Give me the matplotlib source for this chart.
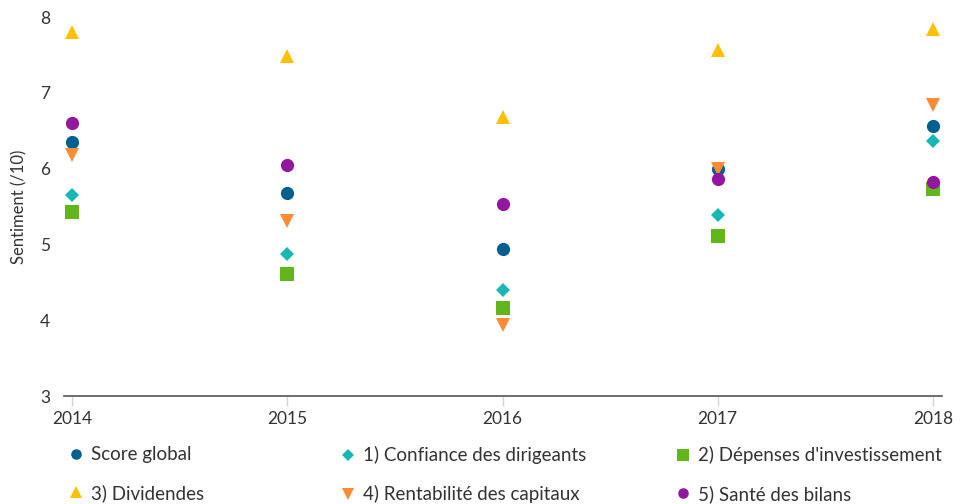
import matplotlib
matplotlib.use("Agg")
import matplotlib.pyplot as plt

plt.rcParams['font.family'] = ['Lato', 'DejaVu Sans']

years = [2014, 2015, 2016, 2017, 2018]

score_global = [6.35, 5.68, 4.94, 6.00, 6.56]
confiance = [5.65, 4.87, 4.40, 5.39, 6.36]
depenses = [5.43, 4.61, 4.16, 5.11, 5.73]
dividendes = [7.80, 7.49, 6.68, 7.56, 7.84]
rentabilite = [6.18, 5.31, 3.94, 6.00, 6.84]
sante = [6.60, 6.05, 5.53, 5.86, 5.82]

series = [
    ("Score global", score_global, "o", "#005F8F", 9.5),
    ("1) Confiance des dirigeants", confiance, "D", "#17B8B4", 7.5),
    ("2) Dépenses d'investissement", depenses, "s", "#62B619", 10),
    ("3) Dividendes", dividendes, "^", "#FFC000", 10.5),
    ("4) Rentabilité des capitaux", rentabilite, "v", "#FF8C33", 10.5),
    ("5) Santé des bilans", sante, "o", "#92179F", 9.5),
]

text_color = "#333333"

fig = plt.figure(figsize=(9.64, 5.04), dpi=100)
ax = fig.add_axes([64 / 964, 1 - 396 / 504, (942 - 64) / 964, (396 - 17) / 504])

handles = []
for label, values, marker, color, size in series:
    h, = ax.plot(years, values, linestyle="none", marker=marker, color=color,
                 markersize=size, markeredgewidth=0, label=label)
    handles.append(h)

ax.set_xlim(2014 - 8 / 215.25, 2018 + 9 / 215.25)
ax.set_ylim(3, 8)
ax.set_xticks(years)
ax.set_xticklabels([str(y) for y in years])
ax.set_yticks([3, 4, 5, 6, 7, 8])

for side in ["top", "right", "left"]:
    ax.spines[side].set_visible(False)
ax.spines["bottom"].set_color("#555555")
ax.spines["bottom"].set_linewidth(1.2)

ax.tick_params(axis="x", colors="#C8D3E3", length=7, width=1, labelcolor=text_color,
               labelsize=12.5, pad=4)
ax.tick_params(axis="y", length=0, labelcolor=text_color, labelsize=12.5, pad=10)
ax.set_ylabel("Sentiment (/10)", color=text_color, fontsize=12, labelpad=9)

# legend: three columns, two rows, placed by hand
col_x = [61 / 964, 333 / 964, 668 / 964]
for i, x in enumerate(col_x):
    leg = fig.legend(handles=[handles[i], handles[i + 3]], loc="upper left",
                     bbox_to_anchor=(x, 1 - 437 / 504), frameon=False,
                     fontsize=13.5, labelspacing=1.1, handlelength=0.6,
                     handletextpad=0.5, borderpad=0, markerscale=0.8)
    for t in leg.get_texts():
        t.set_color(text_color)

fig.savefig("out.png", dpi=100)
